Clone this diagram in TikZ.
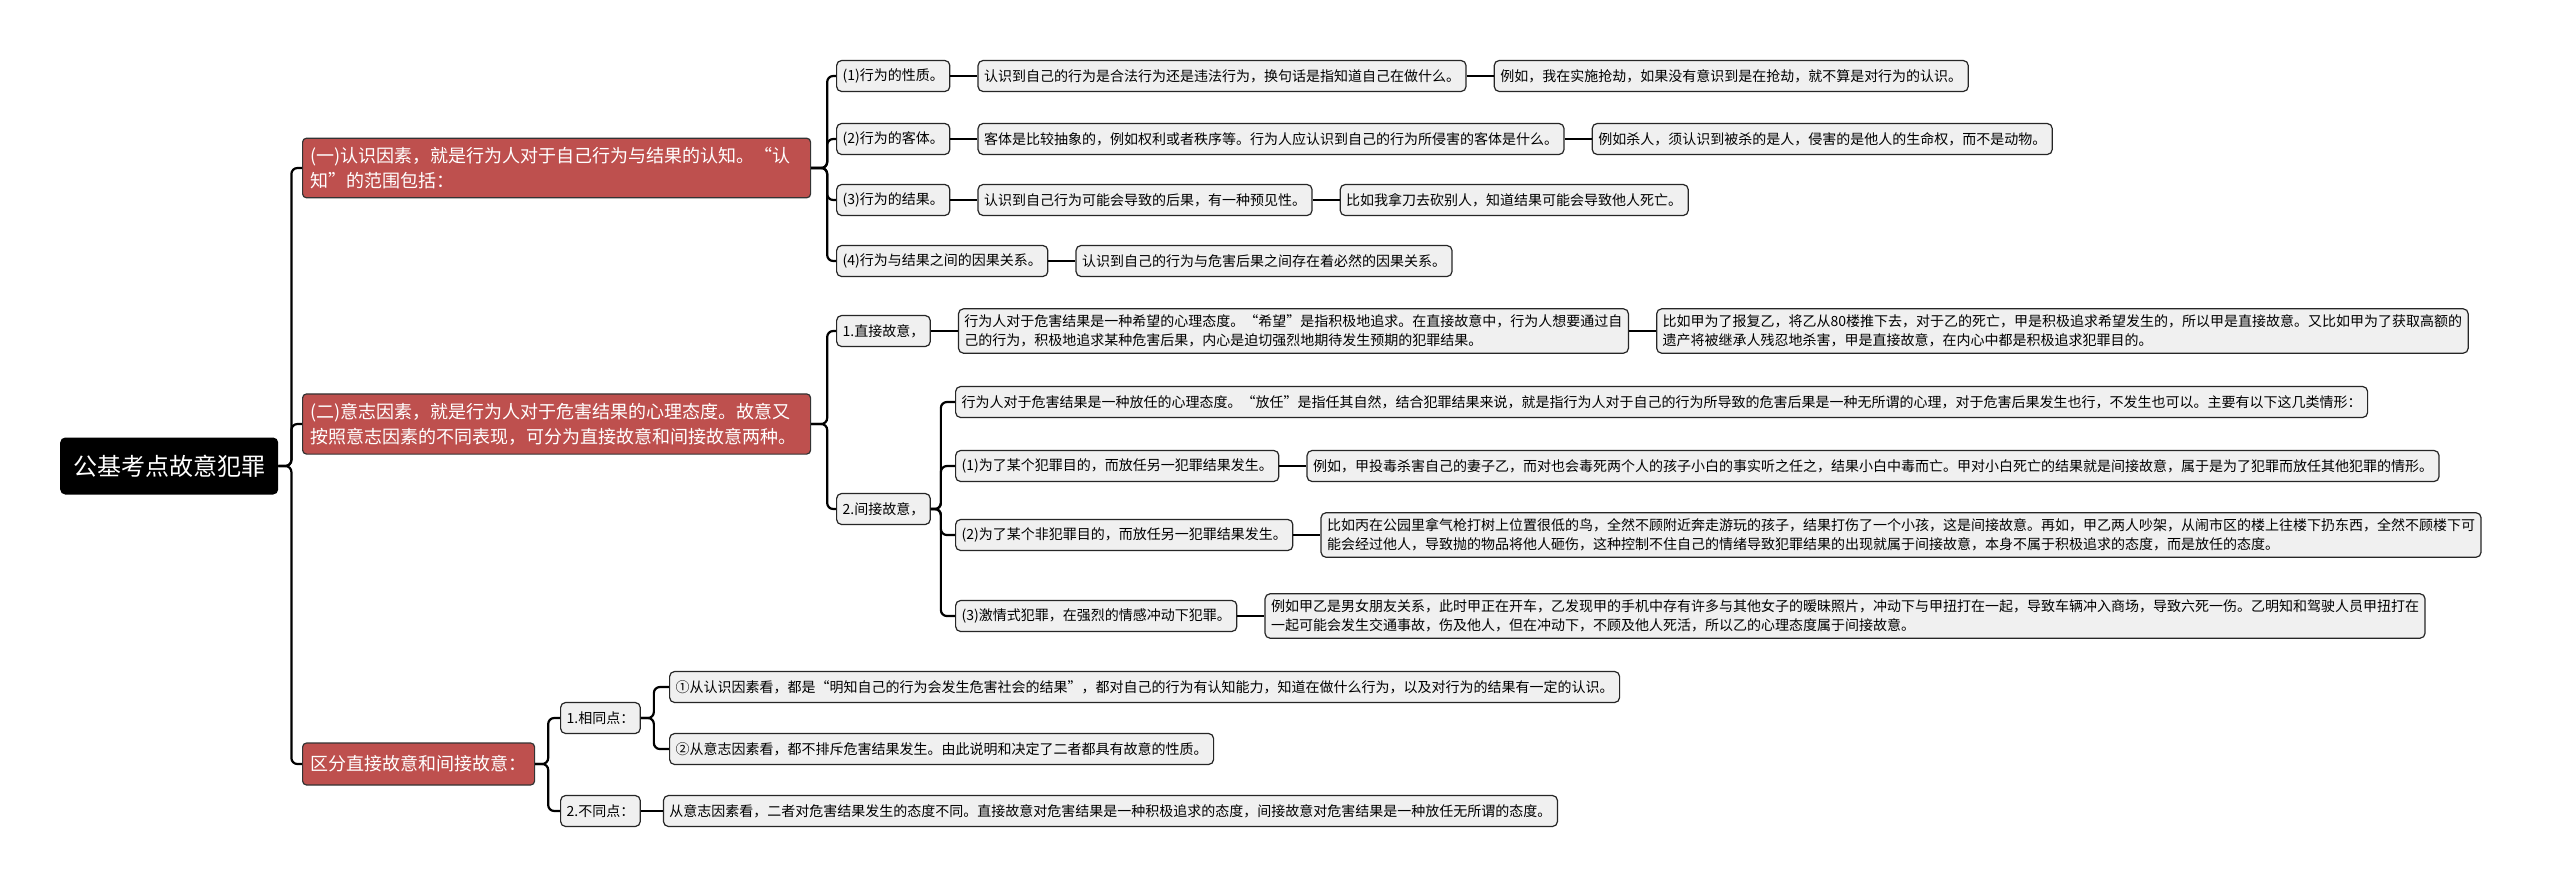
\documentclass[tikz,border=0pt]{standalone}
\usepackage{fontspec}
\setmainfont{Noto Sans CJK SC}
\usepackage{tikz}
\usetikzlibrary{positioning}
\definecolor{mapred}{RGB}{190, 80, 78}
\definecolor{mapgray}{RGB}{240, 240, 240}

\begin{document}
\begin{tikzpicture}[x=1pt, y=-1pt,
    rootbox/.style={rectangle, fill=black, text=white, rounded corners=5pt, minimum width=218pt, minimum height=57pt, font=\fontsize{24}{30}\selectfont, anchor=west},
    topic/.style={rectangle, draw=black!80, fill=mapred, text=white, line width=1.2pt, rounded corners=4pt, inner xsep=8pt, inner ysep=9pt, align=left, font=\fontsize{18}{25}\selectfont, anchor=west},
    leaf/.style={rectangle, draw=black!85, fill=mapgray, line width=1.2pt, rounded corners=5pt, inner xsep=6pt, inner ysep=6pt, minimum height=31pt, align=left, font=\fontsize{14}{19}\selectfont, anchor=west},
    link/.style={line width=2.2pt, rounded corners=6pt},
    node distance=27pt
]
    \fill[white] (0,0) rectangle (2560,887);
    \useasboundingbox (0,0) rectangle (2560,887);

    \node[rootbox] (root) at (60,466) {公基考点故意犯罪};
    \node[topic, text width=492pt] (know) at (302,168) {(一)认识因素，就是行为人对于自己行为与结果的认知。“认\\知”的范围包括：};
    \node[topic, text width=492pt] (will) at (302,424) {(二)意志因素，就是行为人对于危害结果的心理态度。故意又\\按照意志因素的不同表现，可分为直接故意和间接故意两种。};
    \node[topic, minimum height=42pt] (diff) at (302,764) {区分直接故意和间接故意：};

    % 认识因素
    \node[leaf] (nature) at (836,76) {(1)行为的性质。};
    \node[leaf, right=of nature] (natureA) {认识到自己的行为是合法行为还是违法行为，换句话是指知道自己在做什么。};
    \node[leaf, right=of natureA] (natureB) {例如，我在实施抢劫，如果没有意识到是在抢劫，就不算是对行为的认识。};
    \node[leaf] (object) at (836,139) {(2)行为的客体。};
    \node[leaf, right=of object] (objectA) {客体是比较抽象的，例如权利或者秩序等。行为人应认识到自己的行为所侵害的客体是什么。};
    \node[leaf, right=of objectA] (objectB) {例如杀人，须认识到被杀的是人，侵害的是他人的生命权，而不是动物。};
    \node[leaf] (result) at (836,200) {(3)行为的结果。};
    \node[leaf, right=of result] (resultA) {认识到自己行为可能会导致的后果，有一种预见性。};
    \node[leaf, right=of resultA] (resultB) {比如我拿刀去砍别人，知道结果可能会导致他人死亡。};
    \node[leaf] (cause) at (836,261) {(4)行为与结果之间的因果关系。};
    \node[leaf, right=of cause] (causeA) {认识到自己的行为与危害后果之间存在着必然的因果关系。};

    % 意志因素
    \node[leaf] (direct) at (836,331) {1.直接故意，};
    \node[leaf, right=of direct] (directA) {行为人对于危害结果是一种希望的心理态度。“希望”是指积极地追求。在直接故意中，行为人想要通过自\\己的行为，积极地追求某种危害后果，内心是迫切强烈地期待发生预期的犯罪结果。};
    \node[leaf, right=of directA] (directB) {比如甲为了报复乙，将乙从80楼推下去，对于乙的死亡，甲是积极追求希望发生的，所以甲是直接故意。又比如甲为了获取高额的\\遗产将被继承人残忍地杀害，甲是直接故意，在内心中都是积极追求犯罪目的。};
    \node[leaf] (indirect) at (836,509) {2.间接故意，};
    \node[leaf] (loose) at (955,402) {行为人对于危害结果是一种放任的心理态度。“放任”是指任其自然，结合犯罪结果来说，就是指行为人对于自己的行为所导致的危害后果是一种无所谓的心理，对于危害后果发生也行，不发生也可以。主要有以下这几类情形：};
    \node[leaf] (caseA) at (955,466) {(1)为了某个犯罪目的，而放任另一犯罪结果发生。};
    \node[leaf, right=of caseA] (caseAex) {例如，甲投毒杀害自己的妻子乙，而对也会毒死两个人的孩子小白的事实听之任之，结果小白中毒而亡。甲对小白死亡的结果就是间接故意，属于是为了犯罪而放任其他犯罪的情形。};
    \node[leaf] (caseB) at (955,535) {(2)为了某个非犯罪目的，而放任另一犯罪结果发生。};
    \node[leaf, right=of caseB] (caseBex) {比如丙在公园里拿气枪打树上位置很低的鸟，全然不顾附近奔走游玩的孩子，结果打伤了一个小孩，这是间接故意。再如，甲乙两人吵架，从闹市区的楼上往楼下扔东西，全然不顾楼下可\\能会经过他人，导致抛的物品将他人砸伤，这种控制不住自己的情绪导致犯罪结果的出现就属于间接故意，本身不属于积极追求的态度，而是放任的态度。};
    \node[leaf] (caseC) at (955,616) {(3)激情式犯罪，在强烈的情感冲动下犯罪。};
    \node[leaf, right=of caseC] (caseCex) {例如甲乙是男女朋友关系，此时甲正在开车，乙发现甲的手机中存有许多与其他女子的暧昧照片，冲动下与甲扭打在一起，导致车辆冲入商场，导致六死一伤。乙明知和驾驶人员甲扭打在\\一起可能会发生交通事故，伤及他人，但在冲动下，不顾及他人死活，所以乙的心理态度属于间接故意。};

    % 区分
    \node[leaf] (same) at (560,718) {1.相同点：};
    \node[leaf] (sameA) at (669,687) {①从认识因素看，都是“明知自己的行为会发生危害社会的结果”，都对自己的行为有认知能力，知道在做什么行为，以及对行为的结果有一定的认识。};
    \node[leaf] (sameB) at (669,749) {②从意志因素看，都不排斥危害结果发生。由此说明和决定了二者都具有故意的性质。};
    \node[leaf] (other) at (560,811) {2.不同点：};
    \node[leaf, right=22pt of other] (otherA) {从意志因素看，二者对危害结果发生的态度不同。直接故意对危害结果是一种积极追求的态度，间接故意对危害结果是一种放任无所谓的态度。};

    \draw[link] (root.east) -- ++(13,0) |- (know.west);
    \draw[link] (root.east) -- ++(13,0) |- (will.west);
    \draw[link] (root.east) -- ++(13,0) |- (diff.west);

    \draw[link] (know.east) -- ++(16,0) |- (nature.west);
    \draw[link] (know.east) -- ++(16,0) |- (object.west);
    \draw[link] (know.east) -- ++(16,0) |- (result.west);
    \draw[link] (know.east) -- ++(16,0) |- (cause.west);
    \draw[link] (nature) -- (natureA);
    \draw[link] (natureA) -- (natureB);
    \draw[link] (object) -- (objectA);
    \draw[link] (objectA) -- (objectB);
    \draw[link] (result) -- (resultA);
    \draw[link] (resultA) -- (resultB);
    \draw[link] (cause) -- (causeA);

    \draw[link] (will.east) -- ++(16,0) |- (direct.west);
    \draw[link] (will.east) -- ++(16,0) |- (indirect.west);
    \draw[link] (direct) -- (directA);
    \draw[link] (directA) -- (directB);
    \draw[link] (indirect.east) -- ++(10,0) |- (loose.west);
    \draw[link] (indirect.east) -- ++(10,0) |- (caseA.west);
    \draw[link] (indirect.east) -- ++(10,0) |- (caseB.west);
    \draw[link] (indirect.east) -- ++(10,0) |- (caseC.west);
    \draw[link] (caseA) -- (caseAex);
    \draw[link] (caseB) -- (caseBex);
    \draw[link] (caseC) -- (caseCex);

    \draw[link] (diff.east) -- ++(13,0) |- (same.west);
    \draw[link] (diff.east) -- ++(13,0) |- (other.west);
    \draw[link] (same.east) -- ++(13,0) |- (sameA.west);
    \draw[link] (same.east) -- ++(13,0) |- (sameB.west);
    \draw[link] (other) -- (otherA);
\end{tikzpicture}
\end{document}
